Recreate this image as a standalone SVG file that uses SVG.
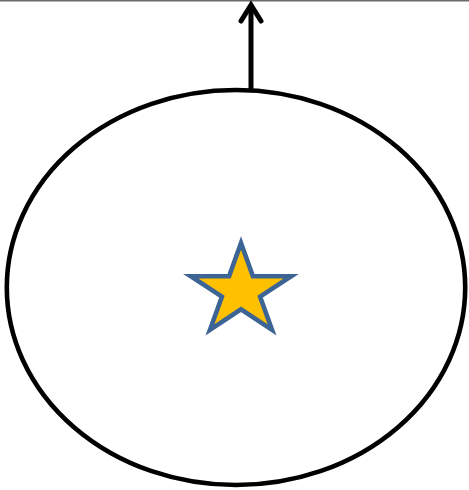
<svg xmlns="http://www.w3.org/2000/svg" width="469" height="490" viewBox="0 0 469 490">
  <style>
    .border { stroke: #6b6b6b; stroke-width: 1.6; }
    .body { fill: #ffffff; stroke: #000000; stroke-width: 4.6; }
    .star { fill: #FFC000; stroke: #3C6494; stroke-width: 4.6; stroke-linejoin: miter; }
    .conn { fill: none; stroke: #000000; stroke-width: 5; }
  </style>
  <rect x="0" y="0" width="469" height="490" fill="#ffffff"/>
  <line class="border" x1="0" y1="0.8" x2="469" y2="0.8"/>
  <g id="ellipse">
    <ellipse class="body" cx="236" cy="287.5" rx="229.2" ry="197.5"/>
  </g>
  <g id="star">
    <polygon class="star" points="241,243 252.9,276.2 291.2,276.2 260.1,296.7 272,329.8 241,309.3 210,329.8 221.9,296.7 190.8,276.2 229.1,276.2"/>
  </g>
  <g id="connectors">
    <line class="conn" x1="251" y1="89" x2="251" y2="5"/>
    <polyline class="conn" points="241,21 251,5 261,21" stroke-linecap="round" stroke-linejoin="miter"/>
  </g>
</svg>
